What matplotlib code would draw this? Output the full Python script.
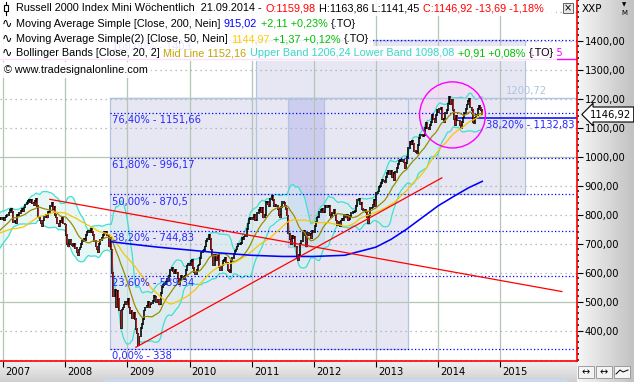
import numpy as np
import pandas as pd
import matplotlib
matplotlib.use("Agg")
import matplotlib.pyplot as plt
from matplotlib.patches import Rectangle, Ellipse
from matplotlib.lines import Line2D
from matplotlib.ticker import MultipleLocator, FixedLocator
from matplotlib.colors import LinearSegmentedColormap

# Wochenschlusskurse Russell 2000 Mini (aus dem Bild geschätzt)
close_2006 = [700, 718, 712, 733, 735, 728, 737, 730, 742, 752, 760, 762, 765,
              758, 768, 775, 764, 781, 760, 735, 721, 718, 690, 680, 700, 724,
              706, 690, 688, 700, 700, 705, 712, 718, 722, 726, 725, 719, 725,
              740, 750, 760, 766, 770, 775, 778, 786, 790, 785, 790, 785, 788]
close_2007 = [781, 790, 795, 800, 808, 815, 820, 810, 775, 780, 770, 800, 800,
              805, 812, 820, 814, 825, 835, 840, 847, 850, 845, 852, 840, 834,
              848, 855, 830, 790, 780, 770, 760, 780, 792, 800, 790, 810, 806,
              830, 840, 820, 828, 800, 790, 770, 760, 780, 775, 790, 770, 766]
close_2008 = [730, 700, 690, 713, 700, 695, 690, 700, 686, 670, 660, 680, 687,
              700, 710, 715, 714, 730, 740, 745, 740, 751, 740, 730, 710, 690,
              680, 670, 700, 714, 720, 730, 740, 735, 740, 730, 690, 720, 680,
              600, 520, 540, 480, 538, 510, 470, 410, 473, 480, 490, 500, 490]
close_2009 = [510, 480, 460, 470, 443, 460, 440, 405, 390, 350, 380, 410, 422,
              440, 470, 480, 487, 500, 480, 490, 495, 502, 520, 515, 500, 508,
              490, 490, 530, 550, 557, 560, 570, 580, 572, 590, 610, 615, 604,
              600, 610, 600, 580, 562, 575, 590, 585, 579, 590, 610, 625, 630]
close_2010 = [625, 640, 645, 615, 602, 595, 610, 625, 628, 650, 670, 675, 679,
              690, 710, 715, 730, 716, 680, 660, 625, 662, 645, 650, 660, 620,
              609, 625, 640, 645, 650, 635, 610, 605, 602, 640, 650, 665, 676,
              680, 690, 700, 700, 703, 720, 715, 725, 727, 750, 770, 785, 790, 784]
close_2011 = [790, 800, 780, 782, 805, 815, 825, 810, 823, 790, 800, 843,
              845, 835, 830, 855, 865, 850, 830, 835, 830, 820, 800, 790, 827,
              845, 840, 830, 820, 797, 735, 715, 700, 726, 720, 725, 690, 650, 644,
              660, 700, 710, 741, 745, 730, 690, 737, 730, 735, 720, 745, 741]
close_2012 = [760, 775, 790, 792, 810, 815, 820, 810, 810, 830, 825, 830, 830,
              800, 790, 805, 816, 800, 780, 765, 775, 761, 780, 785, 780, 798,
              790, 800, 780, 786, 795, 805, 810, 810, 812, 830, 850, 855, 837,
              840, 820, 815, 818, 810, 790, 770, 800, 822, 825, 835, 850, 830]
close_2013 = [875, 880, 895, 900, 910, 920, 915, 911, 930, 945, 950, 940, 951,
              930, 945, 920, 947, 960, 975, 985, 990, 984, 990, 980, 960, 977,
              1000, 1030, 1050, 1045, 1055, 1045, 1020, 1015, 1011, 1040, 1065, 1075, 1073,
              1070, 1075, 1100, 1115, 1100, 1095, 1110, 1120, 1143, 1130, 1120, 1145, 1163]
close_2014 = [1155, 1165, 1170, 1130, 1131, 1120, 1150, 1160, 1183, 1205, 1180, 1195, 1160,
              1130, 1110, 1140, 1125, 1125, 1110, 1100, 1120, 1135, 1150, 1165, 1180, 1193,
              1200, 1170, 1160, 1120, 1115, 1135, 1145, 1165, 1175, 1170, 1160, 1147]

years = [2006, 2007, 2008, 2009, 2010, 2011, 2012, 2013, 2014]
closes_by_year = [close_2006, close_2007, close_2008, close_2009, close_2010,
                  close_2011, close_2012, close_2013, close_2014]

ma200_dates = ['2008-09-22', '2009-01-01', '2009-07-01', '2010-01-01', '2010-07-01',
               '2011-01-01', '2011-07-01', '2012-01-01', '2012-07-01', '2013-01-01',
               '2013-04-01', '2013-07-01', '2013-10-01', '2014-01-01', '2014-04-01',
               '2014-07-01', '2014-09-19']
ma200_vals = [707, 700, 688, 678, 668, 660, 656, 656, 660, 688,
              715, 750, 790, 830, 862, 893, 915]

# Fibonacci
fib_low, fib_high = 338.0, 1403.0
fib_pcts = [0.0, 23.6, 38.2, 50.0, 61.8, 76.4, 100.0]
fib_texts = ['0,00% - 338', '23,60% - 589,34', '38,20% - 744,83', '50,00% - 870,5',
             '61,80% - 996,17', '76,40% - 1151,66', '100,00% - 1403']
fib_start = '2008-09-22'
fib2_level, fib2_start, fib2_text_at = 1132.83, '2014-05-01', '2014-10-12'
level_1200 = 1200.72
level_magenta = 1336.0

# Rechtecke: (von, bis, unten, oben)
rect_a = ('2008-09-22', '2013-07-08', 338.0, 1200.72)
rect_b = ('2011-01-25', '2015-05-28', 870.5, 1403.0)
rect_c = ('2011-08-03', '2012-03-02', 688.0, 1200.72)
circle_center = ('2014-03-28', 1144.0)
circle_w, circle_h = 1.06, 228.0

trend_down = (('2007-10-02', 853.0), ('2015-12-31', 535.0))
trend_up = (('2009-02-20', 343.0), ('2014-01-24', 927.0))


def dec(d):
    ts = pd.Timestamp(d)
    return ts.year + (ts.dayofyear - 1) / 365.25


dates = []
for y, lst in zip(years, closes_by_year):
    dates.extend(pd.date_range(f'{y}-01-01', periods=len(lst), freq='W-FRI'))
idx = pd.DatetimeIndex(dates)
close = pd.Series(np.concatenate(closes_by_year).astype(float), index=idx)
t = np.array(idx.year + (idx.dayofyear - 1) / 365.25)

ma50 = close.rolling(50, min_periods=1).mean().values
mid = close.rolling(20, min_periods=1).mean()
sd = close.rolling(20, min_periods=2).std(ddof=0).fillna(0)
upper = (mid + 2 * sd).values
lower = (mid - 2 * sd).values
mid = mid.values

W, H = 634, 382
fig = plt.figure(figsize=(W / 100, H / 100), dpi=100)

# Hintergrund rechts / unten
gcm = LinearSegmentedColormap.from_list('g', ['#f6f6f6', '#c2c2c2'])
bg_r = fig.add_axes([577 / W, 0, (W - 577) / W, 1], zorder=-5)
bg_r.imshow(np.linspace(0, 1, 64)[None, :], aspect='auto', cmap=gcm, extent=[0, 1, 0, 1])
bg_r.axis('off')
gcm2 = LinearSegmentedColormap.from_list('g2', ['#f0f0f0', '#d0d0d0'])
bg_b = fig.add_axes([0, 0, 577 / W, 21 / H], zorder=-5)
bg_b.imshow(np.linspace(0, 1, 32)[:, None], aspect='auto', cmap=gcm2, extent=[0, 1, 0, 1])
bg_b.axis('off')
fig.add_artist(Rectangle((104 / W, 0), 462 / W, 3 / H, transform=fig.transFigure,
                         color='#c8d8f0', zorder=-1))

ax = fig.add_axes([0, 21 / H, 577 / W, 361 / H], zorder=1)
ax.set_facecolor('white')
x_left, x_right = 2006.948, 2016.24
ax.set_xlim(x_left, x_right)
ax.set_ylim(295.5, 1540.3)

# Raster
for yr in range(2007, 2016):
    ax.axvline(yr, color='#b6c6b6', lw=0.9, zorder=0.8)
for v in range(300, 1600, 100):
    if v in (500, 1000):
        ax.axhline(v, color='#b6c6b6', lw=0.9, zorder=0.8)
    else:
        ax.axhline(v, color='#a8a8a8', lw=0.9, ls=(0, (1, 3)), zorder=0.8)

# Rechtecke
for (a, b, lo, hi) in [rect_a, rect_b]:
    ax.add_patch(Rectangle((dec(a), lo), dec(b) - dec(a), hi - lo, fc='#e7e7f3', ec='none', zorder=0.5))
for (a, b, lo, hi) in [rect_a, rect_b]:
    ax.add_patch(Rectangle((dec(a), lo), dec(b) - dec(a), hi - lo, fc='none', ec='#b4c4de', lw=0.9, zorder=0.9))
a, b, lo, hi = rect_c
ax.add_patch(Rectangle((dec(a), lo), dec(b) - dec(a), hi - lo, fc='#cdcdf0', ec='#b4c4de', lw=0.9, zorder=0.7))

# Kreis
cx, cy = dec(circle_center[0]), circle_center[1]
ax.add_patch(Ellipse((cx, cy), circle_w, circle_h, fc='#f3dcf3', ec='none', alpha=0.8, zorder=1.2))
ax.add_patch(Ellipse((cx, cy), circle_w, circle_h, fc='none', ec='#ff00ff', lw=1.0, zorder=6))

# Bollinger
ax.fill_between(t, lower, upper, color='#d6f0f0', alpha=0.55, lw=0, zorder=1.5)
ax.plot(t, upper, color='#3ee0d0', lw=0.9, zorder=2)
ax.plot(t, lower, color='#3ee0d0', lw=0.9, zorder=2)

# Fibonacci
fs = dec(fib_start)
for p, txt in zip(fib_pcts, fib_texts):
    lv = fib_low + p / 100 * (fib_high - fib_low)
    ax.plot([fs, x_right], [lv, lv], color='#0000ff', lw=0.9, ls=(0, (1, 1.8)), zorder=2.2)
    ax.text(fs + 0.02, lv - 8, txt, color='#2828ff', fontsize=7.2, ha='left', va='top', zorder=7)
ax.plot([dec(fib2_start), x_right], [fib2_level, fib2_level], color='#0000ff', lw=1.1, zorder=2.2)
ax.text(dec(fib2_text_at), fib2_level - 8, '38,20% - 1132,83', color='#2828ff', fontsize=7.2,
        ha='left', va='top', zorder=7)
ax.plot([fs, x_right], [level_1200, level_1200], color='#b0c4de', lw=1.0, zorder=2.1)
ax.text(2015.75, level_1200 + 8, '1200,72', color='#b0c4de', fontsize=7.2, ha='right', va='bottom', zorder=7)
ax.plot([x_left, x_right], [level_magenta, level_magenta], color='#ff00ff', lw=1.0, zorder=2.1)
ax.text(2016.03, level_magenta + 6, '1336,5', color='#ff00ff', fontsize=7.2, ha='right', va='bottom', zorder=7)

# Kerzen
o = close.shift(1).values
c = close.values
m = ~np.isnan(o)
lo_b = np.minimum(o, c)[m]
hi_b = np.maximum(o, c)[m]
ax.vlines(t[m], lo_b - 3, hi_b + 3, color='black', lw=1.15, zorder=3)
down = (c < o)[m]
ax.vlines(t[m][down], lo_b[down], hi_b[down], color='#ff1010', lw=0.55, zorder=3.1)

# Durchschnitte
ax.plot(t, mid, color='#9c8c00', lw=0.9, zorder=4)
ax.plot(t, ma50, color='#f6c800', lw=0.9, zorder=4)
ax.plot([dec(d) for d in ma200_dates], ma200_vals, color='#0000ff', lw=1.15, zorder=4)

# Trendlinien
for (d1, v1), (d2, v2) in [trend_down, trend_up]:
    ax.plot([dec(d1), dec(d2)], [v1, v2], color='#ff0000', lw=0.9, zorder=4.5)

# Achsen
for s in ['top', 'left']:
    ax.spines[s].set_visible(False)
for s in ['right', 'bottom']:
    ax.spines[s].set_color('#ff0000')
    ax.spines[s].set_linewidth(1.2)
ax.yaxis.tick_right()
ax.yaxis.set_major_locator(FixedLocator(list(range(400, 1500, 100))))
ax.set_yticklabels([f'{v},00' for v in range(400, 1500, 100)])
ax.yaxis.set_minor_locator(MultipleLocator(20))
ax.tick_params(axis='y', which='major', length=4, width=0.8, color='black', labelsize=7.2, pad=1.5)
ax.tick_params(axis='y', which='minor', length=1.5, width=1.1, color='black')
ax.set_xticks(list(range(2007, 2016)))
ax.tick_params(axis='x', length=4, width=0.8, color='black', labelbottom=False)
for yr in range(2007, 2016):
    ax.text(yr + 0.035, -0.031, str(yr), transform=ax.get_xaxis_transform(), fontsize=7.2,
            ha='left', va='center', clip_on=False)

# Kursmarke rechts
fig.text(590 / W, 1 - 114.5 / H, '1146,92', fontsize=7.2, ha='left', va='center', zorder=12,
         bbox=dict(boxstyle='larrow,pad=0.25', fc='white', ec='black', lw=0.8))

# Legende oben
rend = fig.canvas.get_renderer()


def row(x, y, parts, size=7.8, gap=3.5):
    for s, col in parts:
        tx = fig.text(x / W, 1 - y / H, s, color=col, fontsize=size, family='Liberation Sans',
                      ha='left', va='center', zorder=12)
        x += tx.get_window_extent(renderer=rend).width + gap
    return x


def box(x0, x1, y0, y1):
    fig.add_artist(Rectangle((x0 / W, 1 - y1 / H), (x1 - x0) / W, (y1 - y0) / H,
                             transform=fig.transFigure, fc='white', ec='none', alpha=0.88, zorder=10))


green = '#00c000'
rows = [
    (8.3, [('Russell 2000 Index Mini Wöchentlich  21.09.2014 -', 'black'), ('O:1159,98', '#ff0000'),
           ('H:1163,86 L:1141,45', 'black'), ('C:1146,92 -13,69 -1,18%', '#ff0000')]),
    (24, [('Moving Average Simple [Close, 200, Nein]', 'black'), ('915,02', '#0000ff'),
          ('+2,11 +0,23%', green), ('{.TO}', 'black')]),
    (39, [('Moving Average Simple(2) [Close, 50, Nein]', 'black'), ('1144,97', '#ffcc00'),
          ('+1,37 +0,12%', green), ('{.TO}', 'black')]),
    (53.3, [('Bollinger Bands [Close, 20, 2]', 'black'), ('Mid Line 1152,16', '#c0a400'),
            ('Upper Band 1206,24 Lower Band 1098,08', '#38d8c8'), ('+0,91 +0,08%', green),
            ('{.TO}', 'black')]),
    (70, [('© www.tradesignalonline.com', 'black')]),
]
bounds = [(0, 16), (16, 31.5), (31.5, 46), (46, 60.5), (62, 78)]
for i, ((yc, parts), (y0, y1)) in enumerate(zip(rows, bounds)):
    x0 = 4 if i == 4 else 16
    xe = row(x0, yc, parts)
    box(0, (556 if i == 0 else xe), y0, y1)
    if 1 <= i <= 3:
        fig.text(2 / W, 1 - yc / H, '∿', fontsize=9, ha='left', va='center', zorder=12)

# Symbol Kerze
fig.add_artist(Line2D([6 / W, 6 / W], [1 - 2 / H, 1 - 15 / H], transform=fig.transFigure,
                      color='black', lw=0.8, zorder=12))
fig.add_artist(Rectangle((4 / W, 1 - 11 / H), 4 / W, 6 / H, transform=fig.transFigure,
                         fc='white', ec='black', lw=0.8, zorder=12))
# Fenster-Knöpfe
fig.add_artist(Rectangle((563 / W, 1 - 13 / H), 10 / W, 10 / H, transform=fig.transFigure,
                         fc='#e8e8e8', ec='#606060', lw=0.7, zorder=12))
fig.text(568 / W, 1 - 8 / H, '×', fontsize=7, ha='center', va='center', zorder=13)
fig.text(582 / W, 1 - 9 / H, 'XXP', fontsize=7.5, ha='left', va='center', zorder=12)
fig.text(624 / W, 1 - 5 / H, '▼', fontsize=4, ha='center', va='center', zorder=12)
fig.text(624 / W, 1 - 13 / H, 'M', fontsize=5, ha='center', va='center', zorder=12)
for k, bx in enumerate([578, 596, 614]):
    fig.add_artist(Rectangle((bx / W, 4 / H), 16 / W, 12 / H, transform=fig.transFigure,
                             fc='#f4f4f4', ec='#909090', lw=0.6, zorder=12))
    if k < 2:
        fig.text((bx + 8) / W, 10 / H, '↔', fontsize=7, ha='center', va='center', zorder=13)
    else:
        fig.add_artist(Line2D([(bx + 2) / W, (bx + 6) / W, (bx + 9) / W, (bx + 14) / W],
                              [8 / H, 12 / H, 10 / H, 12 / H], transform=fig.transFigure,
                              color='black', lw=0.7, zorder=13))

fig.savefig('out.png', dpi=100)
